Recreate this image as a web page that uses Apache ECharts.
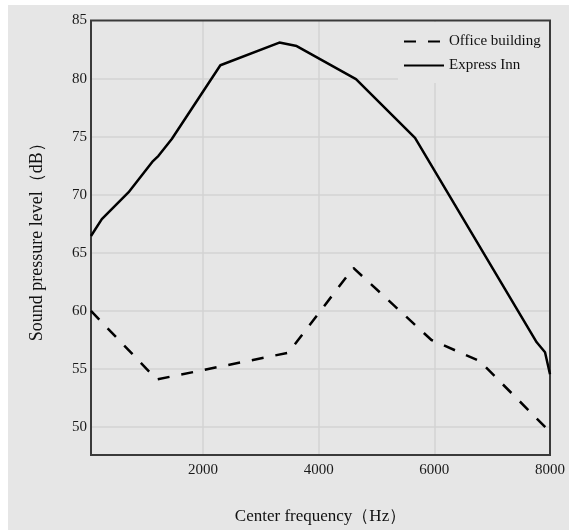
<!DOCTYPE html>
<html><head><meta charset="utf-8">
<script src="https://cdn.jsdelivr.net/npm/echarts@6/dist/echarts.min.js"></script>
<style>
html,body{margin:0;padding:0;background:#fff;width:569px;height:530px;overflow:hidden}
#chart{position:absolute;left:8px;top:5px;width:561px;height:525px;background:#e6e6e6}
</style></head><body><div id="chart"></div>
<script>
const xTicks = [2000, 4000, 6000, 8000];
const xGrid  = [2000, 4000, 6000];
const yTicks = [50, 55, 60, 65, 70, 75, 80, 85];
const yGrid  = [50, 55, 60, 65, 70, 75, 80];
const officeFreq = [63, 1200, 3475, 4600, 5950, 6780, 8000];
const officeSPL  = [60.0, 54.1, 56.4, 63.7, 57.5, 55.7, 49.6];
const innFreq = [63, 250, 710, 1135, 1230, 1460, 2300, 3320, 3620, 4645, 5666, 7770, 7914, 8000];
const innSPL  = [66.45, 67.9, 70.2, 72.9, 73.35, 74.8, 81.15, 83.1, 82.8, 79.95, 74.9, 57.3, 56.45, 54.55];
const seriesNames = ['Office building', 'Express Inn'];

const serif = "'Liberation Serif', 'Times New Roman', serif";
const toPairs = (xs, ys) => xs.map((x, i) => [x, ys[i]]);

const chart = echarts.init(document.getElementById('chart'), null, {renderer: 'canvas'});
chart.setOption({
  backgroundColor: '#e6e6e6',
  animation: false,
  grid: {left: 83, top: 15.5, right: 19, bottom: 75, show: true, borderColor: '#3a3a3a', borderWidth: 2, backgroundColor: 'transparent', z: 3},
  legend: {
    data: seriesNames,
    orient: 'vertical',
    left: 390, top: 17,
    padding: [12, 8, 10, 5],
    itemWidth: 40, itemHeight: 14, itemGap: 9,
    backgroundColor: '#e6e6e6',
    itemStyle: {opacity: 0},
    textStyle: {fontFamily: serif, fontSize: 15, color: '#111'}
  },
  xAxis: {
    type: 'value', min: 63, max: 8000,
    name: 'Center frequency（Hz）', nameLocation: 'middle', nameGap: 53,
    nameTextStyle: {fontFamily: serif, fontSize: 17, color: '#111'},
    axisLine: {show: false},
    axisTick: {show: false, customValues: xGrid},
    axisLabel: {customValues: xTicks, formatter: v => String(v), fontFamily: serif, fontSize: 15, color: '#1a1a1a', margin: 8},
    splitLine: {show: true, lineStyle: {color: '#d3d3d3', width: 1.5}}
  },
  yAxis: {
    type: 'value', min: 47.6, max: 85,
    name: 'Sound pressure level（dB）', nameLocation: 'middle', nameGap: 45,
    nameTextStyle: {fontFamily: serif, fontSize: 18, color: '#111'},
    axisLine: {show: false},
    axisTick: {show: false, customValues: yGrid},
    axisLabel: {customValues: yTicks, formatter: v => String(v), fontFamily: serif, fontSize: 15, color: '#1a1a1a', margin: 4},
    splitLine: {show: true, lineStyle: {color: '#d3d3d3', width: 1.5}}
  },
  series: [
    {name: seriesNames[0], type: 'line', symbol: 'none', data: toPairs(officeFreq, officeSPL),
     lineStyle: {color: '#000', width: 2.5, type: [12, 12]}, itemStyle: {color: '#000'}},
    {name: seriesNames[1], type: 'line', symbol: 'none', data: toPairs(innFreq, innSPL),
     lineStyle: {color: '#000', width: 2.5, type: 'solid'}, itemStyle: {color: '#000'}}
  ]
});
</script></body></html>
